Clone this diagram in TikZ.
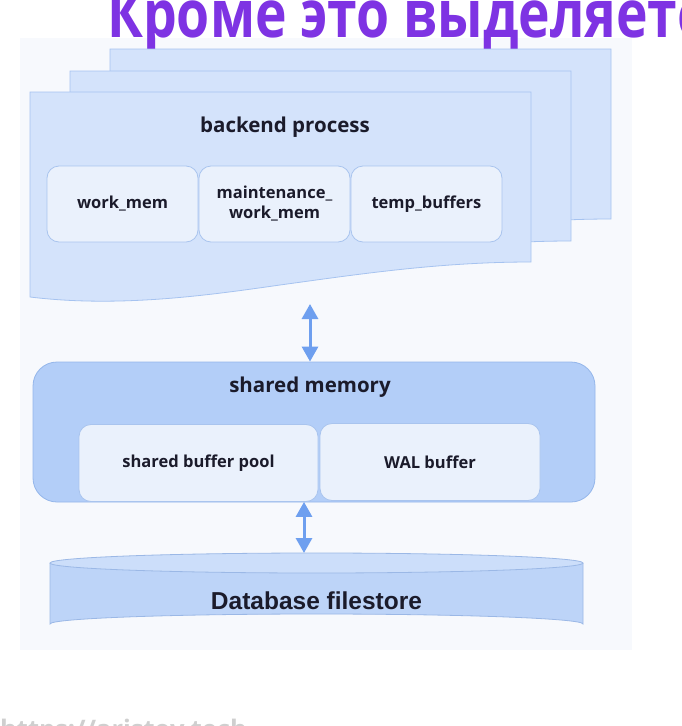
\documentclass[tikz,border=0pt]{standalone}
\usepackage{fontspec}
\setmainfont{Open Sans}
\newfontfamily\arialfont{Liberation Sans}
\usetikzlibrary{arrows.meta}
\definecolor{panelbg}{HTML}{F7F9FD}
\definecolor{docfill}{HTML}{D4E3FB}
\definecolor{docline}{HTML}{A6C3F0}
\definecolor{boxfill}{HTML}{EAF1FC}
\definecolor{boxline}{HTML}{A9C4EE}
\definecolor{smfill}{HTML}{B3CEF8}
\definecolor{smline}{HTML}{94B6EA}
\definecolor{arrowblue}{HTML}{6E9FEF}
\definecolor{cylfill}{HTML}{BDD4F8}
\definecolor{cyltop}{HTML}{CCDEFA}
\definecolor{cylline}{HTML}{9BB8E6}
\definecolor{txtdark}{HTML}{1B1B2B}
\definecolor{titlepurple}{HTML}{7E33E3}
\definecolor{urlgray}{HTML}{CFCFCF}
\tikzset{
  docstyle/.style={fill=docfill,draw=docline,line width=0.8pt},
  membox/.style={fill=boxfill,draw=boxline,line width=0.8pt,rounded corners=12pt,
    minimum width=151pt,minimum height=76pt,inner sep=0pt,align=center,
    text=txtdark,font=\bfseries\fontsize{16.5}{20}\selectfont},
  headtext/.style={text=txtdark,font=\bfseries\fontsize{20.5}{24}\selectfont},
  dblarrow/.style={arrowblue,line width=3pt,
    {Triangle[width=16pt,length=15pt]}-{Triangle[width=16pt,length=15pt]}},
  docpic/.pic={
    \draw[docstyle] (0,0) -- (501,0) -- (501,170)
      .. controls (410,170) and (330,182) .. (250,193)
      .. controls (180,203) and (90,216) .. (0,205) -- cycle;
  }
}
\begin{document}
\begin{tikzpicture}[x=1pt,y=-1pt]
\useasboundingbox (0,0) rectangle (681,726);
\clip (0,0) rectangle (681,726);
\fill[white] (0,0) rectangle (681,726);
\fill[panelbg] (20,38) rectangle (632,650);

% title and url (cut by page edge, as in the reference)
\node[anchor=base west,inner sep=0pt,text=titlepurple,xscale=0.81,transform shape,
  font=\bfseries\fontsize{66}{72}\selectfont] (title) at (107,37) {Кроме это выделяете};
\node[anchor=base west,inner sep=0pt,text=urlgray,
  font=\bfseries\fontsize{25.5}{28}\selectfont] (url) at (0,738) {https://aristov.tech};

% stacked documents
\pic at (110,49) {docpic};
\pic at (70,71) {docpic};
\pic at (30,92) {docpic};
\node[headtext] (bp) at (285,127) {backend process};
\node[membox] (wm) at (122.5,204) {work\_mem};
\node[membox] (mwm) at (274.5,204) {maintenance\_\\work\_mem};
\node[membox] (tb) at (426.5,204) {temp\_buffers};
\coordinate (docbottom) at (310,304);

% shared memory
\node[fill=smfill,draw=smline,line width=0.8pt,rounded corners=24pt,
  minimum width=562pt,minimum height=140pt,inner sep=0pt] (sm) at (314,432) {};
\node[headtext] (smt) at (310,387) {shared memory};
\node[membox,minimum width=239pt,minimum height=77pt] (sbp) at (198.5,463) {shared buffer pool};
\node[membox,minimum width=220pt,minimum height=77pt] (wal) at (430,462) {WAL buffer};

% database cylinder
\fill[cylfill] (50,563) -- (50,624) arc[start angle=180,end angle=360,x radius=266.5,y radius=10]
  -- (583,563) -- cycle;
\draw[cylline,line width=0.8pt] (50,563) -- (50,624) arc[start angle=180,end angle=360,x radius=266.5,y radius=10]
  -- (583,563);
\draw[cylline,line width=0.8pt,fill=cyltop] (316.5,563) ellipse[x radius=266.5,y radius=10];
\node[text=txtdark,font=\arialfont\bfseries\fontsize{24.5}{28}\selectfont] (db) at (316.5,601) {Database filestore};
\coordinate (dbtop) at (304,553);

% arrows
\draw[dblarrow] (docbottom) -- (docbottom |- sm.north);
\draw[dblarrow] (sbp.south -| dbtop) -- (dbtop);
\end{tikzpicture}
\end{document}
